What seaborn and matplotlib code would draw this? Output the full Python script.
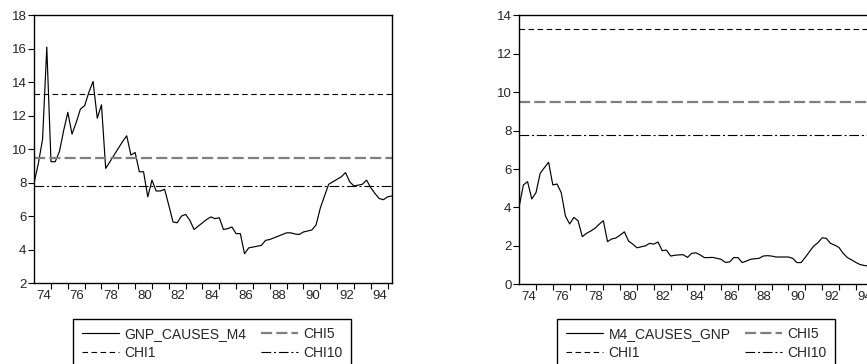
import numpy as np
import pandas as pd
import seaborn as sns
import matplotlib.pyplot as plt
from matplotlib.ticker import FixedLocator, NullFormatter

# quarterly test statistics, 1974Q1 - 1995Q2
quarters = pd.period_range('1974Q1', '1995Q2', freq='Q')

gnp_causes_m4 = [8.0, 9.15, 10.6, 16.1, 9.25, 9.25, 9.85, 11.1, 12.2, 10.9,
                 11.6, 12.4, 12.6, 13.4, 14.05, 11.85, 12.65, 8.85, 9.25, 9.65,
                 10.05, 10.45, 10.8, 9.65, 9.8, 8.65, 8.65, 7.15, 8.15, 7.5,
                 7.5, 7.6, 6.65, 5.65, 5.6, 6.0, 6.1, 5.75, 5.2, 5.4,
                 5.6, 5.8, 5.95, 5.85, 5.9, 5.2, 5.25, 5.35, 4.95, 4.95,
                 3.75, 4.1, 4.15, 4.2, 4.25, 4.55, 4.6, 4.7, 4.8, 4.9,
                 5.0, 5.0, 4.93, 4.9, 5.05, 5.11, 5.17, 5.47, 6.47, 7.2,
                 7.9, 8.05, 8.2, 8.35, 8.6, 8.05, 7.8, 7.85, 7.9, 8.15,
                 7.7, 7.35, 7.05, 6.98, 7.15, 7.2]

m4_causes_gnp = [4.04, 5.17, 5.34, 4.44, 4.77, 5.78, 6.07, 6.35, 5.17, 5.22,
                 4.77, 3.55, 3.14, 3.48, 3.31, 2.48, 2.65, 2.77, 2.91, 3.12,
                 3.31, 2.22, 2.36, 2.41, 2.56, 2.73, 2.25, 2.09, 1.90, 1.95,
                 2.0, 2.13, 2.09, 2.2, 1.75, 1.78, 1.47, 1.51, 1.53, 1.54,
                 1.40, 1.61, 1.64, 1.53, 1.39, 1.39, 1.40, 1.35, 1.30, 1.14,
                 1.16, 1.39, 1.39, 1.13, 1.21, 1.30, 1.33, 1.35, 1.47, 1.49,
                 1.47, 1.42, 1.42, 1.42, 1.42, 1.35, 1.13, 1.13, 1.40, 1.70,
                 1.99, 2.16, 2.42, 2.39, 2.13, 2.04, 1.92, 1.61, 1.39, 1.27,
                 1.14, 1.03, 0.98, 0.95, 0.95, 1.0]

# chi-square critical values (4 df)
chi1 = 13.28
chi5 = 9.49
chi10 = 7.78

year_labels = ['74', '76', '78', '80', '82', '84', '86', '88', '90', '92', '94']

sns.set_style('white')
plt.rcParams['font.family'] = ['Liberation Sans', 'DejaVu Sans']
plt.rcParams['lines.scale_dashes'] = False

t = quarters.year + (quarters.quarter - 1) / 4.0
df = pd.DataFrame({'t': t, 'GNP_CAUSES_M4': gnp_causes_m4,
                   'M4_CAUSES_GNP': m4_causes_gnp})

fig = plt.figure(figsize=(8.67, 3.64), dpi=100)
ax1 = fig.add_axes([0.0394, 0.2225, 0.4125, 0.7354])
ax2 = fig.add_axes([0.5988, 0.219, 0.4125, 0.739])


def draw_panel(ax, col, ylim, legend_x):
    sns.lineplot(data=df, x='t', y=col, ax=ax, color='black', lw=0.85,
                 label=col, legend=False)
    h_main = ax.get_lines()[-1]
    h1 = ax.axhline(chi1, color='black', lw=0.8, dashes=(4, 2.5), label='CHI1')
    h5 = ax.axhline(chi5, color='#7f7f7f', lw=1.6, dashes=(8, 3), label='CHI5')
    h10 = ax.axhline(chi10, color='black', lw=0.8, dashes=(7, 2, 1.5, 2), label='CHI10')

    ax.set_xlim(t[0], t[-1])
    ax.set_ylim(*ylim)
    ax.set_yticks(np.arange(ylim[0], ylim[1] + 1, 2))
    ax.set_xlabel('')
    ax.set_ylabel('')

    # year boundaries get the tick marks, labels sit mid-year
    ax.xaxis.set_major_locator(FixedLocator(np.arange(1975, 1996)))
    ax.xaxis.set_major_formatter(NullFormatter())
    ax.xaxis.set_minor_locator(FixedLocator([1974.55 + 2 * k for k in range(len(year_labels))]))
    ax.set_xticklabels(year_labels, minor=True)
    ax.tick_params(axis='x', which='major', direction='out', length=4, width=0.8,
                   bottom=True, color='black')
    ax.tick_params(axis='x', which='minor', length=0, pad=5, labelsize=9.5)
    ax.tick_params(axis='y', direction='out', length=4, width=0.8, left=True,
                   labelsize=9.5, pad=1.5, color='black')

    for s in ax.spines.values():
        s.set_color('black')
        s.set_linewidth(1.0)

    fig.legend(handles=[h_main, h1, h5, h10],
               labels=[col, 'CHI1', 'CHI5', 'CHI10'],
               loc='upper left', bbox_to_anchor=(legend_x, 1 - 319 / 364),
               borderaxespad=0, ncol=2, fontsize=10, frameon=True, fancybox=False,
               edgecolor='black', framealpha=1, handlelength=2.7,
               handletextpad=0.4, columnspacing=1.0, labelspacing=0.35,
               borderpad=0.6)


draw_panel(ax1, 'GNP_CAUSES_M4', (2, 18), 73.3 / 867)
draw_panel(ax2, 'M4_CAUSES_GNP', (0, 14), 557.3 / 867)

fig.savefig('out.png', dpi=100)
